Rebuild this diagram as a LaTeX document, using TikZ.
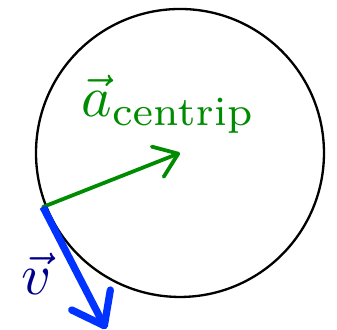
\documentclass[tikz,border=0pt]{standalone}
\usepackage{tikz}
\usetikzlibrary{arrows.meta}
\definecolor{accgreen}{HTML}{008C00}
\definecolor{velblue}{HTML}{0033FF}
\definecolor{velnavy}{HTML}{00008C}
\begin{document}
\begin{tikzpicture}[
  x=0.1725pt, y=0.1725pt,
  orbit/.style={draw=black, line width=0.4pt},
  accarr/.style={-{Straight Barb[length=3.8pt, width=5.6pt, round]}, line width=0.65pt, color=accgreen, line cap=round},
  velarr/.style={-{Straight Barb[length=5pt, width=7.5pt, round]}, line width=1.25pt, color=velblue},
  lab/.style={inner sep=0pt},
]
  \useasboundingbox (0,0) rectangle (337,330);
  \coordinate (centre) at (180,177);
  \draw[orbit] (centre) circle (144pt*0.1725);
  \coordinate (body) at (43,123);
  \coordinate (vtip) at (106,1);
  \node[lab, text=accgreen] (alabel) at (168.5,225.5) {$\vec a_{\mathrm{centrip}}$};
  \node[lab, text=velnavy] (vlabel) at (36.5,56) {$\vec v$};
  \draw[accarr] (body) -- (centre);
  \draw[velarr] (body) -- (vtip);
\end{tikzpicture}
\end{document}
